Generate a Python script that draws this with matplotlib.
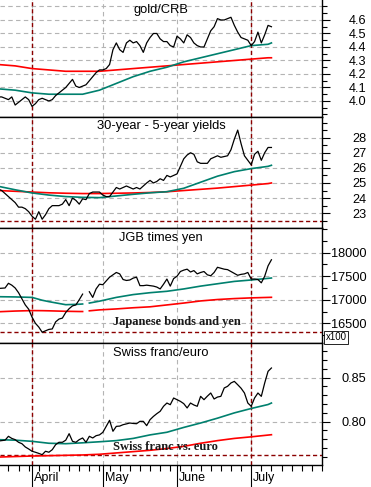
import numpy as np
import pandas as pd
import matplotlib
matplotlib.use('Agg')
import matplotlib.pyplot as plt
from matplotlib.ticker import MultipleLocator, FixedLocator, NullFormatter

plt.rcParams['font.family'] = ['Liberation Sans', 'DejaVu Sans']

# trading days, 18 Mar - 11 Jul
dates = pd.bdate_range('2011-03-18', '2011-07-11')

gold_crb = [4.03, 4.03, 4.02, 4.01, 4.03, 3.97, 3.99, 4.01, 4.03, 4.01,
            3.96, 3.98, 4.01, 4.02, 4.01, 4.00, 4.01, 4.04, 4.06, 4.08,
            4.10, 4.13, 4.16, 4.11, 4.10, 4.11, 4.12, 4.15, 4.18, 4.21,
            4.23, 4.23, 4.24, 4.27, 4.38, 4.43, 4.38, 4.36, 4.43, 4.45,
            4.43, 4.44, 4.41, 4.36, 4.43, 4.47, 4.50, 4.50, 4.46, 4.44,
            4.44, 4.41, 4.40, 4.48, 4.46, 4.43, 4.49, 4.47, 4.43, 4.41,
            4.40, 4.40, 4.46, 4.52, 4.55, 4.61, 4.60, 4.60, 4.61, 4.62,
            4.56, 4.51, 4.47, 4.46, 4.45, 4.41, 4.44, 4.51, 4.43, 4.49,
            4.56, 4.55]
yields_30_5 = [24.6, 24.5, 24.3, 24.1, 23.9, 23.7, 23.4, 23.4, 23.3, 23.1,
               22.8, 22.6, 23.1, 22.6, 22.9, 23.3, 23.5, 23.5, 23.5, 23.6,
               23.9, 23.5, 24.0, 23.85, 23.6, 23.95, 23.9, 24.3, 24.4, 24.4,
               24.4, 24.2, 24.1, 24.1, 24.4, 24.7, 24.6, 24.7, 24.8, 24.7,
               24.6, 24.7, 24.6, 24.8, 25.0, 25.17, 25.0, 25.1, 25.28, 25.17,
               25.5, 25.4, 25.5, 25.6, 26.1, 26.6, 26.85, 27.0, 26.9, 26.4,
               26.3, 26.3, 26.3, 26.6, 26.7, 26.8, 26.7, 26.75, 26.8, 27.2,
               27.9, 28.5, 27.6, 26.8, 26.5, 26.2, 26.9, 27.1, 26.5, 27.0,
               27.35, 27.35]
jgb_yen = [17240, 17245, 17250, 17350, 17310, 17250, 17150, 17020, 16890, 16800,
           16630, 16500, 16420, 16310, 16340, 16370, 16380, 16530, 16590, 16610,
           16730, 16810, 16870, 16890, 17000, 17120, np.nan, 17170, 17050, 17230,
           17330, 17320, 17400, 17480, 17530, 17580, 17550, 17430, 17410, 17420,
           17460, 17480, 17300, 17300, 17310, 17300, 17290, 17270, 17230, 17330,
           17440, 17290, 17450, 17500, 17600, 17630, 17650, 17590, 17620, 17550,
           17580, 17600, 17530, 17510, 17580, 17690, 17670, 17650, 17640, 17600,
           17560, 17520, 17540, 17550, 17580, 17440, 17440, 17430, 17360, 17500,
           17720, 17850]
chf_eur = [0.778, 0.7785, 0.779, 0.7834, 0.781, 0.7796, 0.7766, 0.775, 0.7713, 0.769,
           0.7664, 0.7653, 0.764, 0.7625, 0.7664, 0.7653, 0.7682, 0.7739, 0.7766, 0.7766,
           0.779, 0.7864, 0.7777, 0.7766, 0.7796, 0.7815, 0.7766, 0.7834, 0.7815, 0.7841,
           0.785, 0.7879, 0.7947, 0.8016, 0.7891, 0.7947, 0.795, 0.7966, 0.7975, 0.7985,
           0.798, 0.7977, 0.8004, 0.8004, 0.7955, 0.8023, 0.806, 0.8091, 0.8118, 0.8175,
           0.8212, 0.8193, 0.8269, 0.825, 0.8231, 0.8205, 0.8156, 0.8212, 0.819, 0.8175,
           0.8288, 0.825, 0.829, 0.8326, 0.8258, 0.828, 0.8288, 0.8383, 0.8402, 0.844,
           0.8458, 0.842, 0.838, 0.8326, 0.8212, 0.8175, 0.8269, 0.8326, 0.8288, 0.8439,
           0.8572, 0.861]

# moving averages, read weekly (day number within dates)
ma_days = [0, 5, 10, 15, 20, 25, 30, 35, 40, 45, 50, 55, 60, 65, 70, 75, 80, 81]
gold_ma_short = [4.09, 4.08, 4.06, 4.05, 4.05, 4.05, 4.08, 4.13, 4.18, 4.22, 4.25,
                 4.29, 4.32, 4.35, 4.38, 4.41, 4.42, 4.43]
gold_ma_long = [4.27, 4.26, 4.24, 4.23, 4.22, 4.22, 4.22, 4.23, 4.24, 4.25, 4.26,
                4.27, 4.28, 4.29, 4.30, 4.31, 4.32, 4.32]
yld_ma_short = [24.78, 24.55, 24.34, 24.2, 24.1, 24.05, 24.03, 24.14, 24.25, 24.35,
                24.42, 24.65, 25.05, 25.45, 25.75, 25.95, 26.1, 26.17]
yld_ma_long = [24.5, 24.45, 24.4, 24.35, 24.32, 24.3, 24.3, 24.32, 24.34, 24.37,
               24.42, 24.5, 24.58, 24.66, 24.76, 24.86, 24.96, 25.0]
chf_ma_short = [0.7796, 0.779, 0.7777, 0.7755, 0.775, 0.776, 0.7772, 0.7785, 0.781,
                0.785, 0.788, 0.7935, 0.7985, 0.804, 0.81, 0.815, 0.8195, 0.8212]
chf_ma_long = [0.7598, 0.7604, 0.761, 0.7614, 0.7618, 0.7622, 0.763, 0.7645, 0.766,
               0.7675, 0.7695, 0.772, 0.7755, 0.7785, 0.781, 0.7828, 0.7848, 0.7852]

jgb_ma_days = [0, 5, 10, 13, 15, 20, 24, 25, 26, 27, 30, 35, 40, 45, 50, 55, 60, 65,
               70, 75, 80, 81]
jgb_ma_short = [17065, 17060, 17050, 16990, 16960, 16895, 16905, 16910, np.nan, 16930,
                16970, 17050, 17110, 17150, 17180, 17230, 17290, 17340, 17390, 17420,
                17455, 17462]
jgb_ma_long = [16745, 16760, 16770, 16768, 16765, 16755, 16750, 16750, np.nan, 16765,
               16785, 16805, 16830, 16850, 16890, 16930, 16975, 17005, 17025, 17040,
               17050, 17052]

titles = ['gold/CRB', '30-year - 5-year yields', 'JGB times yen', 'Swiss franc/euro']
notes = [None, None, 'Japanese bonds and yen', 'Swiss franc vs. euro']
ylims = [(3.885, 4.748), (22.02, 29.40), (16081, 18525), (0.7508, 0.8894)]
yticks = [[4.0, 4.1, 4.2, 4.3, 4.4, 4.5, 4.6], [23, 24, 25, 26, 27, 28],
          [16500, 17000, 17500, 18000], [0.80, 0.85]]
ytick_labels = [['4.0', '4.1', '4.2', '4.3', '4.4', '4.5', '4.6'],
                ['23', '24', '25', '26', '27', '28'],
                ['16500', '17000', '17500', '18000'], ['0.80', '0.85']]
minor_steps = [0.05, 0.5, 250, 0.01]
floor_lines = [None, 22.46, 16308, 0.7618]

month_names = ['April', 'May', 'June', 'July']

x = np.arange(len(dates))
# month start positions: April, May, June, July
month_pos = [i for i in range(1, len(dates)) if dates[i].month != dates[i - 1].month]

fig = plt.figure(figsize=(3.71, 4.87), dpi=100)
H = 487.0
bounds = [(0, 116.5), (116.5, 228), (228, 343), (343, 465)]
note_xy = [None, None, (0.548, 0.13), (0.515, 0.10)]

series = [gold_crb, yields_30_5, jgb_yen, chf_eur]
shorts = [(ma_days, gold_ma_short), (ma_days, yld_ma_short),
          (jgb_ma_days, jgb_ma_short), (ma_days, chf_ma_short)]
longs = [(ma_days, gold_ma_long), (ma_days, yld_ma_long),
         (jgb_ma_days, jgb_ma_long), (ma_days, chf_ma_long)]

dark_red = '#8b0000'
teal = '#00806e'

axes = []
for k in range(4):
    top, bot = bounds[k]
    ax = fig.add_axes([0, 1 - bot / H, 322 / 371.0, (bot - top) / H])
    axes.append(ax)
    ax.set_xlim(0.5, 96)
    ax.set_ylim(*ylims[k])

    # grid
    for yv in yticks[k]:
        ax.axhline(yv, color='#b4b4b4', lw=0.8, ls=(0, (4, 3)), zorder=1)
    if k == 0:
        ax.axhline(4.7, color='#b4b4b4', lw=0.8, ls=(0, (4, 3)), zorder=1)
    for m in month_pos:
        ax.axvline(m, color='#b4b4b4', lw=0.8, ls=(0, (4, 3)), zorder=1)
    for m in (month_pos[0], month_pos[3]):
        ax.axvline(m, color=dark_red, lw=1.0, ls=(0, (3, 2)), zorder=2)
    if floor_lines[k] is not None:
        ax.axhline(floor_lines[k], color=dark_red, lw=1.0, ls=(0, (3, 2)), zorder=2)

    ax.plot(longs[k][0], longs[k][1], color='#ff0000', lw=1.2, zorder=3)
    ax.plot(shorts[k][0], shorts[k][1], color=teal, lw=1.2, zorder=3)
    ax.plot(x, series[k], color='black', lw=0.9, zorder=4)

    ax.text(0.5, 0.965, titles[k], transform=ax.transAxes, ha='center', va='top',
            fontsize=9.3)
    if notes[k]:
        ax.text(note_xy[k][0], note_xy[k][1], notes[k],
                transform=ax.transAxes, ha='center', va='bottom', fontsize=9,
                fontweight='bold', family=['Liberation Serif', 'DejaVu Serif'],
                color='#1a1a1a', zorder=5)

    ax.yaxis.tick_right()
    ax.yaxis.set_major_locator(FixedLocator(yticks[k]))
    ax.set_yticklabels(ytick_labels[k])
    ax.yaxis.set_minor_locator(MultipleLocator(minor_steps[k]))
    ax.tick_params(axis='y', which='major', length=6, width=0.8, pad=26,
                   labelsize=9.2, direction='out')
    ax.tick_params(axis='y', which='minor', length=3.5, width=0.8, direction='out')
    for lab in ax.get_yticklabels():
        lab.set_horizontalalignment('right')

    ax.spines['left'].set_visible(False)
    ax.spines['top'].set_visible(k > 0)
    for s in ('right', 'top', 'bottom'):
        ax.spines[s].set_linewidth(1.0)
    ax.set_facecolor('white')

    if k < 3:
        ax.tick_params(axis='x', which='both', bottom=False, labelbottom=False)
    else:
        ax.xaxis.set_major_locator(FixedLocator(month_pos))
        ax.xaxis.set_major_formatter(NullFormatter())
        ax.xaxis.set_minor_locator(MultipleLocator(3))
        ax.tick_params(axis='x', which='major', length=17, width=0.8)
        ax.tick_params(axis='x', which='minor', length=4, width=0.8)
        for m, name in zip(month_pos, month_names):
            ax.text(m + 0.6, -0.11, name, transform=ax.get_xaxis_transform(),
                    ha='left', va='center', fontsize=9)

# x100 marker on JGB panel
axes[2].text(1.012, 0.05, 'x100', transform=axes[2].transAxes, ha='left',
             va='center', fontsize=7,
             bbox=dict(boxstyle='square,pad=0.15', fc='white', ec='black', lw=0.6))

fig.savefig('out.png', dpi=100)
